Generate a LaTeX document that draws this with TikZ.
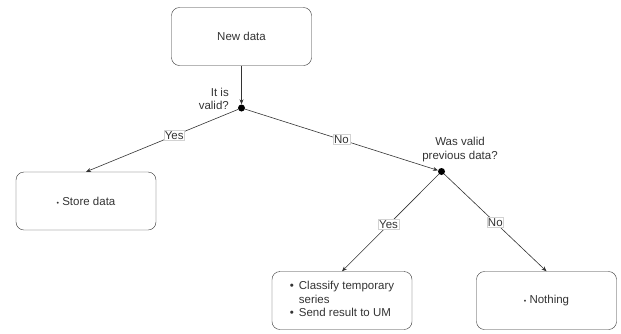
\documentclass[tikz,border=0pt]{standalone}
\usepackage{fontspec}
\setmainfont{Liberation Sans}
\usetikzlibrary{arrows.meta}
\definecolor{inkgray}{HTML}{333333}
\newcommand{\flowfont}{\fontsize{11.5}{13.5}\selectfont}
\tikzset{
    box/.style={draw=inkgray, rounded corners=8pt, minimum width=140pt,
                minimum height=58pt, text=inkgray, font=\flowfont},
    decision/.style={circle, fill=black, inner sep=0pt, minimum size=7pt},
    link/.style={-{Stealth[length=5pt,width=4pt]}, draw=inkgray, line width=0.6pt},
    answer/.style={fill=white, draw=gray!35, inner sep=1pt, text=inkgray, font=\flowfont},
    question/.style={inner sep=0pt, text=inkgray, font=\flowfont}
}
\begin{document}
\begin{tikzpicture}[x=1pt, y=-1pt]
    \useasboundingbox (0,0) rectangle (621,333);
    % Boxes
    \node[box] (newdata) at (241.5, 36.5) {New data};
    \node[box] (store) at (86, 201) {{\scriptsize\textbullet}\ Store data};
    \node[box] (classify) at (342, 300.5) {%
        \begin{tabular}{@{}l@{\hspace{5pt}}l@{}}
            \textbullet & Classify temporary\\
                        & series\\
            \textbullet & Send result to UM
        \end{tabular}};
    \node[box] (nothing) at (546.5, 300.5) {{\scriptsize\textbullet}\ Nothing};

    % Decision points
    \node[decision] (valid) at (241.5, 108) {};
    \node[decision] (previous) at (441.5, 171.5) {};
    \node[question, align=right, anchor=south east] (validq) at (229, 110) {It is\\valid?};
    \node[question, align=center, anchor=south] (previousq) at (460, 162) {Was valid\\previous data?};

    % Connectors
    \draw[link] (newdata) -- (valid);
    \draw[link] (valid) -- (store.north) node[answer, pos=0.42] {Yes};
    \draw[link] (valid) -- (previous) node[answer, midway] {No};
    \draw[link] (previous) -- (classify.north) node[answer, pos=0.52] {Yes};
    \draw[link] (previous) -- (nothing.north) node[answer, pos=0.5] {No};
\end{tikzpicture}
\end{document}
